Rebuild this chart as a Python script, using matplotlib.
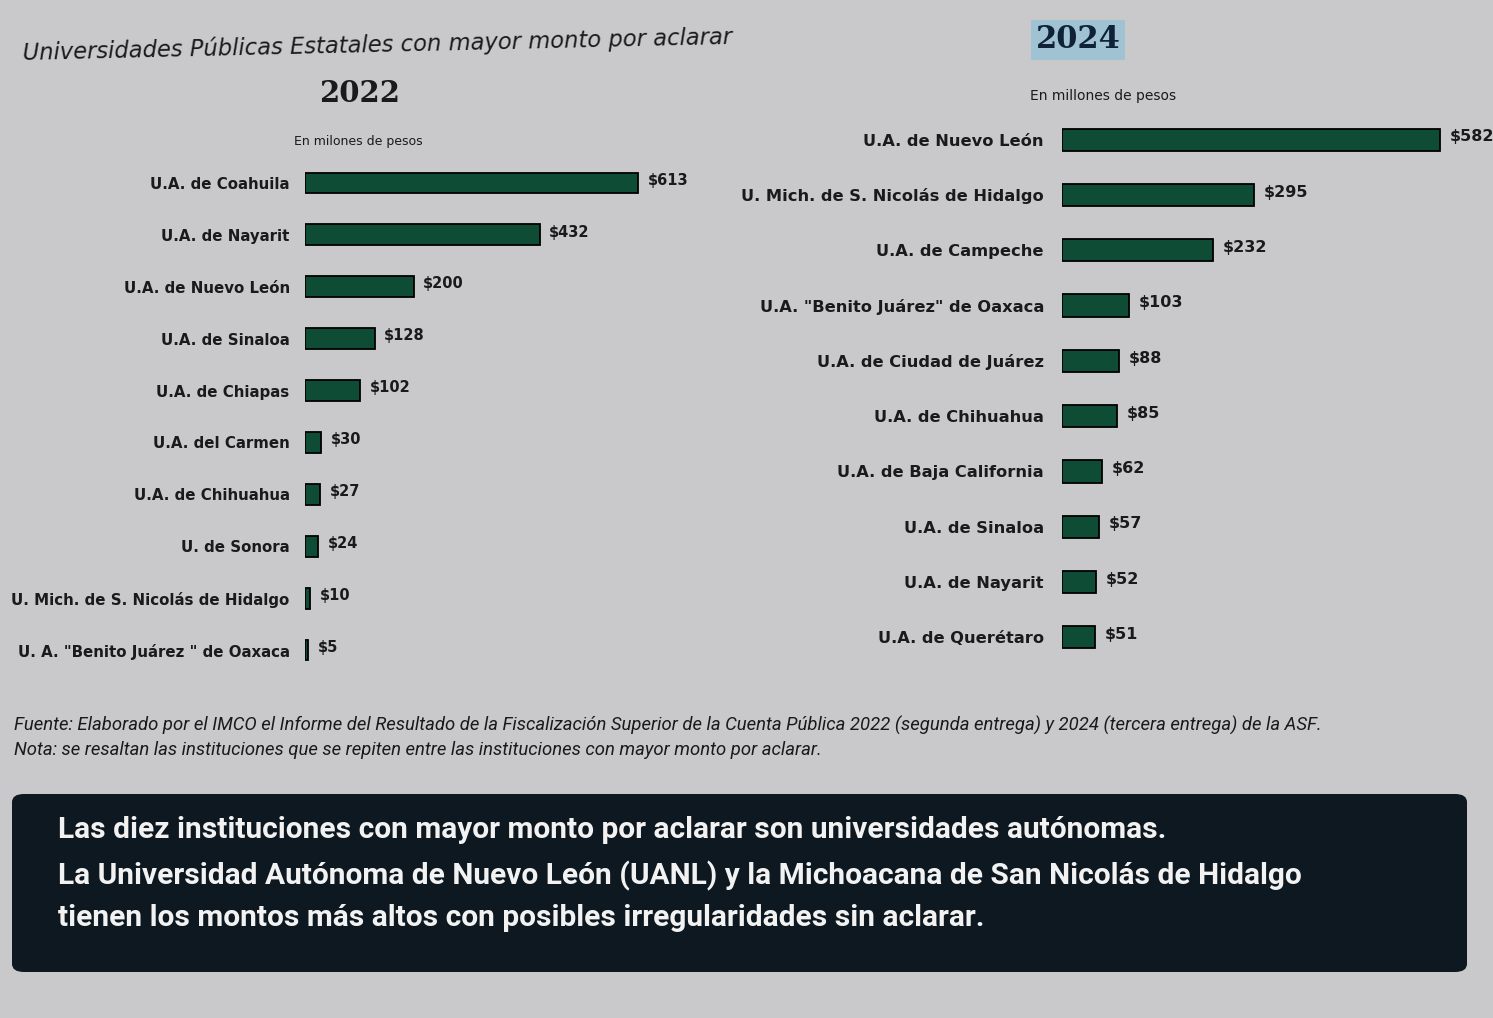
import matplotlib.pyplot as plt
from matplotlib.patches import FancyBboxPatch

# data, millones de pesos
unis_2022 = ["U.A. de Coahuila", "U.A. de Nayarit", "U.A. de Nuevo León",
             "U.A. de Sinaloa", "U.A. de Chiapas", "U.A. del Carmen",
             "U.A. de Chihuahua", "U. de Sonora",
             "U. Mich. de S. Nicolás de Hidalgo",
             "U. A. \"Benito Juárez \" de Oaxaca"]
montos_2022 = [613, 432, 200, 128, 102, 30, 27, 24, 10, 5]

unis_2024 = ["U.A. de Nuevo León", "U. Mich. de S. Nicolás de Hidalgo",
             "U.A. de Campeche", "U.A. \"Benito Juárez\" de Oaxaca",
             "U.A. de Ciudad de Juárez", "U.A. de Chihuahua",
             "U.A. de Baja California", "U.A. de Sinaloa",
             "U.A. de Nayarit", "U.A. de Querétaro"]
montos_2024 = [582, 295, 232, 103, 88, 85, 62, 57, 52, 51]

BG = "#c9c9cc"
GREEN = "#0f4c35"
W, H = 1493, 1018

plt.rcParams['font.family'] = ['DejaVu Sans']

fig = plt.figure(figsize=(W / 100, H / 100), dpi=100, facecolor=BG)


def px_axes(x0, top, w, h):
    # place an axes using pixel coords measured from the top-left
    return fig.add_axes([x0 / W, 1 - (top + h) / H, w / W, h / H])


def draw_panel(ax, names, vals, xmax, lab_size, val_size, pad):
    ys = list(range(len(names)))
    ax.barh(ys, vals, height=0.4, color=GREEN, edgecolor="black", linewidth=1.3)
    ax.set_xlim(0, xmax)
    ax.set_ylim(len(names) - 0.5, -0.5)
    ax.set_yticks(ys)
    ax.set_yticklabels(names, fontsize=lab_size, fontweight="bold", color="#1a1a1a")
    ax.tick_params(axis="y", length=0, pad=pad)
    ax.set_xticks([])
    for s in ax.spines.values():
        s.set_visible(False)
    ax.set_facecolor("none")
    for y, v in zip(ys, vals):
        ax.annotate(f"${v}", (v, y), xytext=(7, 2), textcoords="offset points",
                    va="center", ha="left", fontsize=val_size, fontweight="bold",
                    color="#1a1a1a", annotation_clip=False)


ax1 = px_axes(305, 157, 400, 519)
draw_panel(ax1, unis_2022, montos_2022, 400 / 0.543, 10.8, 10.5, 11)

ax2 = px_axes(1062, 112, 420, 553)
draw_panel(ax2, unis_2024, montos_2024, 420 / 0.65, 11.7, 11.5, 13)

# titles
fig.text(22 / W, 1 - 45 / H, "Universidades Públicas Estatales con mayor monto por aclarar",
         fontsize=16.3, style="italic", color="#1a1a1a", va="center", ha="left",
         rotation=1.3)
fig.text(360 / W, 1 - 93 / H, "2022", fontsize=21, fontweight="bold",
         family="DejaVu Serif", color="#1a1a1a", ha="center", va="center")
fig.text(1078 / W, 1 - 40 / H, "2024", fontsize=22, fontweight="bold",
         family="DejaVu Serif", color="#0f2236", ha="center", va="center",
         bbox=dict(boxstyle="square,pad=0.15", fc="#9fc3d2", ec="none"))
fig.text(358 / W, 1 - 142 / H, "En milones de pesos", fontsize=9,
         color="#1a1a1a", ha="center", va="center")
fig.text(1103 / W, 1 - 96 / H, "En millones de pesos", fontsize=10,
         color="#1a1a1a", ha="center", va="center")

# notes
fig.text(14 / W, 1 - 725 / H,
         "Fuente: Elaborado por el IMCO el Informe del Resultado de la Fiscalización Superior "
         "de la Cuenta Pública 2022 (segunda entrega) y 2024 (tercera entrega) de la ASF.",
         fontsize=13.3, style="italic", color="#1a1a1a", ha="left", va="center",
         family="Roboto")
fig.text(14 / W, 1 - 750 / H,
         "Nota: se resaltan las instituciones que se repiten entre las instituciones "
         "con mayor monto por aclarar.",
         fontsize=13.3, style="italic", color="#1a1a1a", ha="left", va="center",
         family="Roboto")

# dark takeaway box
box = FancyBboxPatch((12 / W, 1 - 972 / H), 1455 / W, 178 / H,
                     boxstyle="round,pad=0,rounding_size=0.008",
                     transform=fig.transFigure, fc="#0e1820", ec="none")
fig.patches.append(box)
lines = ["Las diez instituciones con mayor monto por aclarar son universidades autónomas.",
         "La Universidad Autónoma de Nuevo León (UANL) y la Michoacana de San Nicolás de Hidalgo",
         "tienen los montos más altos con posibles irregularidades sin aclarar."]
for txt, yy in zip(lines, [830, 876, 918]):
    fig.text(58 / W, 1 - yy / H, txt, fontsize=21.5, fontweight="bold",
             color="#f2f2f2", ha="left", va="center", family="Roboto")

fig.savefig("out.png", dpi=100, facecolor=BG)
